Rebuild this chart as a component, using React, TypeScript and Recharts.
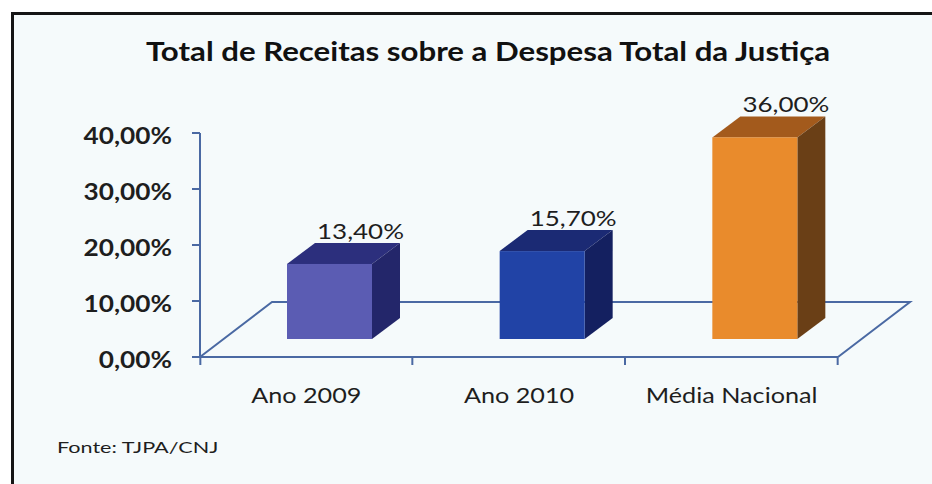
import React from "react";
import { BarChart, Bar, XAxis, YAxis, Cell, LabelList, Customized } from "recharts";

const categories = ["Ano 2009", "Ano 2010", "Média Nacional"];
const values = [0.134, 0.157, 0.36];
const yTicks = [0, 0.1, 0.2, 0.3, 0.4];
const frontColors = ["#5b5cb3", "#2143a6", "#e98b2c"];
const topColors = ["#2c2f7d", "#1b2a74", "#a35a1c"];
const sideColors = ["#23266a", "#142060", "#6a3f16"];

const data = categories.map((name, i) => ({ name, value: values[i] }));

const fmt = (v: number) => (v * 100).toFixed(2).replace(".", ",") + "%";

const FONT = "Lato, 'Open Sans', sans-serif";
const LINE = "#4a69a3";

// geometry (styles)
const M = { top: 133, right: 94, bottom: 97, left: 80 };
const W = 932;
const H = 484;
const YW = 120;
const XH = 30;
const PL = M.left + YW; // plot left 200
const PR = W - M.right; // plot right 838
const PB = H - M.bottom - XH; // plot bottom 357
const FLOOR_DX = 72;
const FLOOR_DY = -55;
const BAR_SHIFT_X = 23;
const BAR_SHIFT_Y = -18;
const DEPTH_X = 28;
const DEPTH_Y = -21;

const SText = ({ x, y, sx, anchor, size, weight, children }: any) => (
  <text
    transform={`translate(${x},${y}) scale(${sx},1)`}
    x={0}
    y={0}
    textAnchor={anchor}
    fontFamily={FONT}
    fontSize={size}
    fontWeight={weight}
    fill="#1e1e1e"
  >
    {children}
  </text>
);

const Floor = () => (
  <g>
    <polyline
      points={`${PL},${PB} ${PL + FLOOR_DX},${PB + FLOOR_DY} ${PR + FLOOR_DX},${PB + FLOOR_DY} ${PR},${PB}`}
      fill="none"
      stroke={LINE}
      strokeWidth={2}
    />
  </g>
);

const Box = (props: any) => {
  const { x, y, width, height, index } = props;
  const fx = x + BAR_SHIFT_X;
  const fy = y + BAR_SHIFT_Y;
  const fb = fy + height;
  const fr = fx + width;
  return (
    <g>
      <polygon
        points={`${fx},${fy} ${fx + DEPTH_X},${fy + DEPTH_Y} ${fr + DEPTH_X},${fy + DEPTH_Y} ${fr},${fy}`}
        fill={topColors[index]}
      />
      <polygon
        points={`${fr},${fy} ${fr + DEPTH_X},${fy + DEPTH_Y} ${fr + DEPTH_X},${fb + DEPTH_Y} ${fr},${fb}`}
        fill={sideColors[index]}
      />
      <rect x={fx} y={fy} width={width} height={height} fill={frontColors[index]} />
    </g>
  );
};

const ValueLabel = (props: any) => {
  const { x, y, width, value } = props;
  return (
    <SText x={x + width / 2 + BAR_SHIFT_X + 31} y={y + BAR_SHIFT_Y - 25} sx={1.18} anchor="middle" size={22} weight={400}>
      {fmt(value)}
    </SText>
  );
};

const XTick = (props: any) => {
  const { x, payload, index } = props;
  const half = 106;
  return (
    <g>
      {index === 0 && <line x1={x - half} y1={PB} x2={x - half} y2={PB + 8} stroke={LINE} strokeWidth={2} />}
      <line x1={x + half} y1={PB} x2={x + half} y2={PB + 8} stroke={LINE} strokeWidth={2} />
      <SText x={x} y={403} sx={1.2} anchor="middle" size={21} weight={400}>
        {payload.value}
      </SText>
    </g>
  );
};

const YTick = (props: any) => {
  const { y, payload } = props;
  return (
    <SText x={172} y={y + 11} sx={1.14} anchor="end" size={23} weight={700}>
      {fmt(payload.value)}
    </SText>
  );
};

export default function App() {
  return (
    <div style={{ position: "absolute", left: 0, top: 0, width: W, height: H, background: "#ffffff", overflow: "hidden" }}>
      <div
        style={{
          position: "absolute",
          left: 11,
          top: 12,
          right: -10,
          bottom: -10,
          borderLeft: "3px solid #151515",
          borderTop: "3px solid #151515",
          background: "#f5fafb",
        }}
      />
      <div style={{ position: "absolute", left: 0, top: 0 }}>
        <BarChart width={W} height={H} data={data} margin={M}>
          <Customized component={Floor} />
          <text
            transform="translate(488,61) scale(1.2,1)"
            x={0}
            y={0}
            textAnchor="middle"
            fontFamily={FONT}
            fontWeight={700}
            fontSize={26}
            fill="#111"
          >
            Total de Receitas sobre a Despesa Total da Justiça
          </text>
          <XAxis
            dataKey="name"
            height={XH}
            axisLine={{ stroke: LINE, strokeWidth: 2 }}
            tickLine={false}
            tick={<XTick />}
            interval={0}
          />
          <YAxis
            width={YW}
            domain={[0, 0.4]}
            ticks={yTicks}
            axisLine={{ stroke: LINE, strokeWidth: 2 }}
            tickLine={{ stroke: LINE, strokeWidth: 2 }}
            tickSize={8}
            tick={<YTick />}
          />
          <Bar dataKey="value" barSize={85} shape={<Box />} isAnimationActive={false}>
            {data.map((d, i) => (
              <Cell key={d.name} fill={frontColors[i]} />
            ))}
            <LabelList dataKey="value" content={<ValueLabel />} />
          </Bar>
        </BarChart>
      </div>
      <div
        style={{
          position: "absolute",
          left: 57,
          top: 437,
          fontFamily: FONT,
          fontSize: 16,
          color: "#1e1e1e",
          lineHeight: "20px",
          transform: "scaleX(1.35)",
          transformOrigin: "left center",
          whiteSpace: "nowrap",
        }}
      >
        Fonte: TJPA/CNJ
      </div>
    </div>
  );
}
